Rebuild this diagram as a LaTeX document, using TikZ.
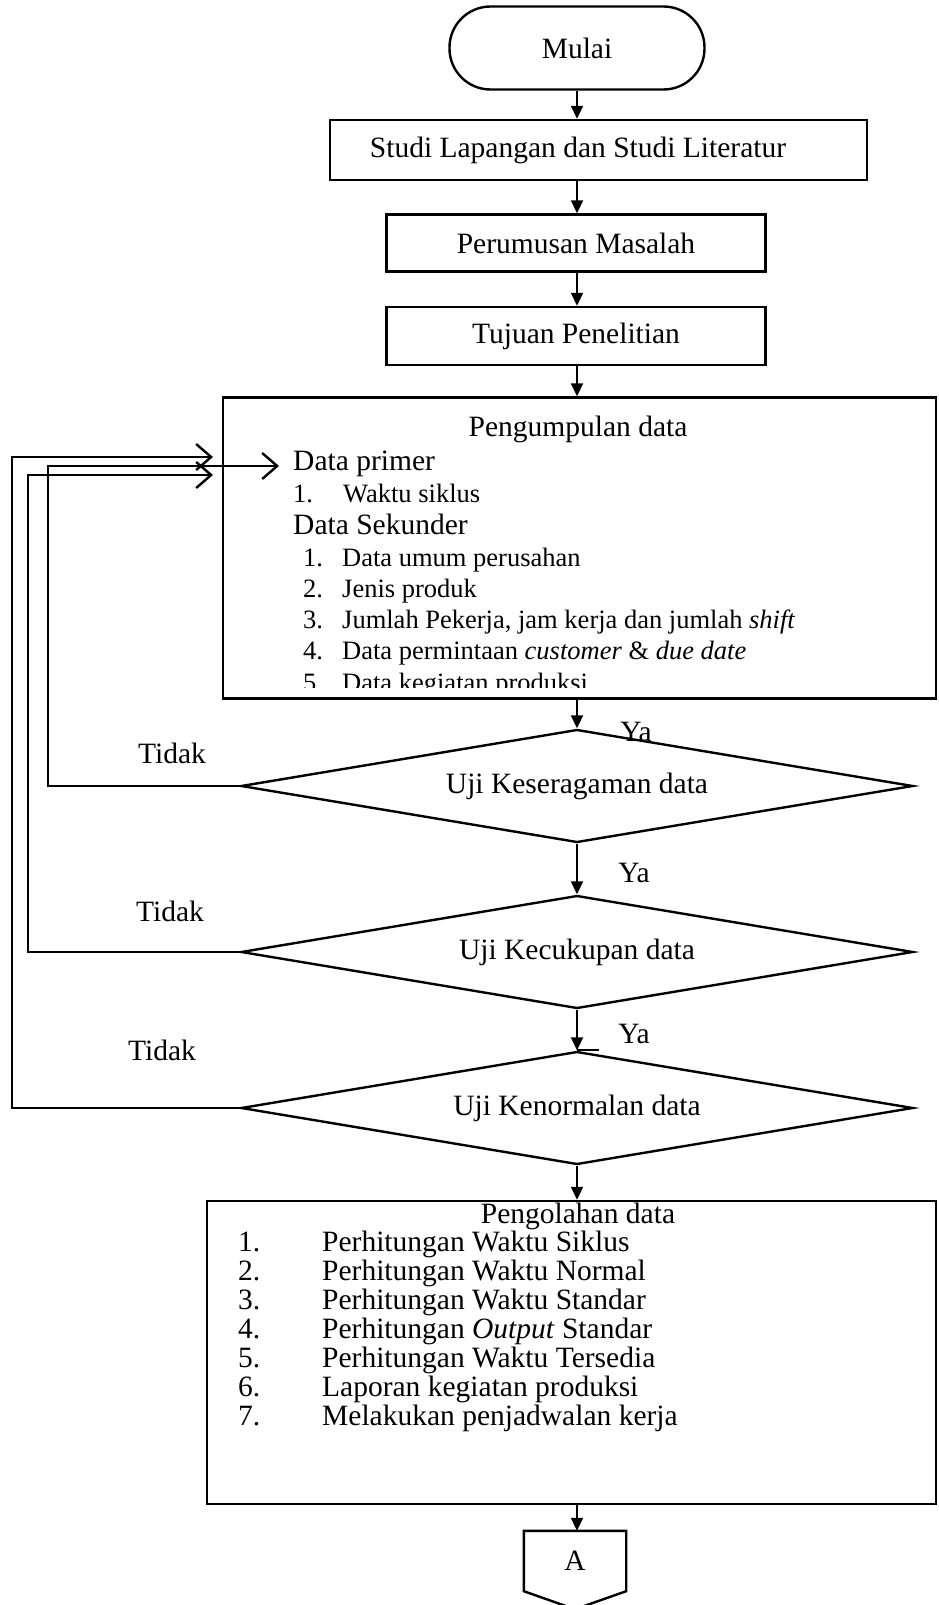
\documentclass[tikz,border=0pt]{standalone}
\usepackage{fontspec}
\setmainfont{Liberation Serif}
\usetikzlibrary{arrows.meta,shapes.geometric}

\begin{document}
\begin{tikzpicture}[x=1pt,y=-1pt,
  every node/.style={font=\fontsize{29.5}{34}\selectfont},
  small/.style={font=\fontsize{26.5}{31}\selectfont},
  proc/.style={draw,line width=2.4pt,rectangle,inner sep=0pt},
  decision/.style={draw,line width=2.4pt,diamond,aspect=6,inner sep=0pt,
                   minimum width=672pt,minimum height=113pt},
  txt/.style={inner sep=0pt,anchor=base west},
  ctxt/.style={inner sep=0pt,anchor=base},
  flow/.style={line width=2pt,-{Triangle[length=13pt,width=12pt]}},
  back/.style={line width=2.4pt,-{Straight Barb[length=15pt,width=26pt,line width=2.4pt]}}
]
\useasboundingbox (0,0) rectangle (938,1605);

% --- start and preparatory steps ---
\node[proc,rounded corners=41pt,minimum width=255pt,minimum height=83pt] (mulai) at (577,48) {Mulai};
\node[proc,minimum width=537pt,minimum height=60pt] (studi) at (598.5,150) {};
\node[inner sep=0pt] (studitxt) at (578,150) {Studi Lapangan dan Studi Literatur};
\node[proc,minimum width=379pt,minimum height=57pt] (rumus) at (576,243) {Perumusan Masalah};
\node[proc,minimum width=379pt,minimum height=58pt] (tujuan) at (576,336) {Tujuan Penelitian};

% --- data collection box (last line runs past the text area) ---
\node[proc,minimum width=713pt,minimum height=301pt] (kumpul) at (579.5,548) {};
\begin{scope}
  \clip (kumpul.north west) rectangle ([yshift=12pt]kumpul.south east);
  \node[ctxt] (kjudul) at (578,436) {Pengumpulan data};
  \node[txt] (primer) at (293,470) {Data primer};
  \node[txt,small] (pn1) at (293,502) {1.};
  \node[txt,small] (p1) at (343,502) {Waktu siklus};
  \node[txt] (sekunder) at (293,534) {Data Sekunder};
  \node[txt,small] (sn1) at (303,566) {1.};
  \node[txt,small] (s1) at (342,566) {Data umum perusahan};
  \node[txt,small] (sn2) at (303,597) {2.};
  \node[txt,small] (s2) at (342,597) {Jenis produk};
  \node[txt,small] (sn3) at (303,628) {3.};
  \node[txt,small] (s3) at (342,628) {Jumlah Pekerja, jam kerja dan jumlah \textit{shift}};
  \node[txt,small] (sn4) at (303,659) {4.};
  \node[txt,small] (s4) at (342,659) {Data permintaan \textit{customer} \& \textit{due date}};
  \node[txt,small] (sn5) at (303,691) {5.};
  \node[txt,small] (s5) at (342,691) {Data kegiatan produksi};
\end{scope}

% --- tests ---
\node[decision] (seragam) at (577,786) {Uji Keseragaman data};
\node[decision] (cukup) at (577,952) {Uji Kecukupan data};
\node[decision] (normal) at (577,1108) {Uji Kenormalan data};
\draw[line width=2pt] (normal.north) -- ++(22,0);

\node[inner sep=0pt] (ya1) at (636,732) {Ya};
\node[inner sep=0pt] (ya2) at (634,873) {Ya};
\node[inner sep=0pt] (ya3) at (634,1034) {Ya};
\node[inner sep=0pt] (tidak1) at (172,753) {Tidak};
\node[inner sep=0pt] (tidak2) at (170,911) {Tidak};
\node[inner sep=0pt] (tidak3) at (162,1050) {Tidak};

% --- data processing box ---
\node[proc,minimum width=729pt,minimum height=303pt] (olah) at (571.5,1352.5) {};
\node[ctxt] (ojudul) at (578,1223) {Pengolahan data};
\node[txt] (on1) at (238,1251) {1.};
\node[txt] (o1) at (322,1251) {Perhitungan Waktu Siklus};
\node[txt] (on2) at (238,1280) {2.};
\node[txt] (o2) at (322,1280) {Perhitungan Waktu Normal};
\node[txt] (on3) at (238,1309) {3.};
\node[txt] (o3) at (322,1309) {Perhitungan Waktu Standar};
\node[txt] (on4) at (238,1338) {4.};
\node[txt] (o4) at (322,1338) {Perhitungan \textit{Output} Standar};
\node[txt] (on5) at (238,1367) {5.};
\node[txt] (o5) at (322,1367) {Perhitungan Waktu Tersedia};
\node[txt] (on6) at (238,1396) {6.};
\node[txt] (o6) at (322,1396) {Laporan kegiatan produksi};
\node[txt] (on7) at (238,1425) {7.};
\node[txt] (o7) at (322,1425) {Melakukan penjadwalan kerja};

% --- off-page connector ---
\node[minimum width=102pt,minimum height=60pt,inner sep=0pt] (A) at (575,1561) {A};
\draw[line width=2.4pt,line join=miter] (A.north west) -- (A.north east) -- (A.south east)
  -- ([yshift=-18pt]A.south) -- (A.south west) -- cycle;

% --- main flow ---
\draw[flow] (mulai.south) -- (mulai.south |- studi.north);
\draw[flow] (mulai.south |- studi.south) -- (mulai.south |- rumus.north);
\draw[flow] (mulai.south |- rumus.south) -- (mulai.south |- tujuan.north);
\draw[flow] (mulai.south |- tujuan.south) -- (mulai.south |- kumpul.north);
\draw[flow] (seragam.north |- kumpul.south) -- (seragam.north);
\draw[flow] (seragam.south) -- (cukup.north);
\draw[flow] (cukup.south) -- (normal.north);
\draw[flow] (normal.south) -- (normal.south |- olah.north);
\draw[flow] (normal.south |- olah.south) -- (A.north -| normal.south);

% --- loops back to data collection ---
\coordinate (r1) at (279,466);
\coordinate (r2) at (213,475);
\coordinate (r3) at (213,457);
\draw[back] (seragam.west) -| (48,466) -- (r1);
\draw[back] (cukup.west) -| (28,475) -- (r2);
\draw[back] (normal.west) -| (12,457) -- (r3);
\end{tikzpicture}
\end{document}
